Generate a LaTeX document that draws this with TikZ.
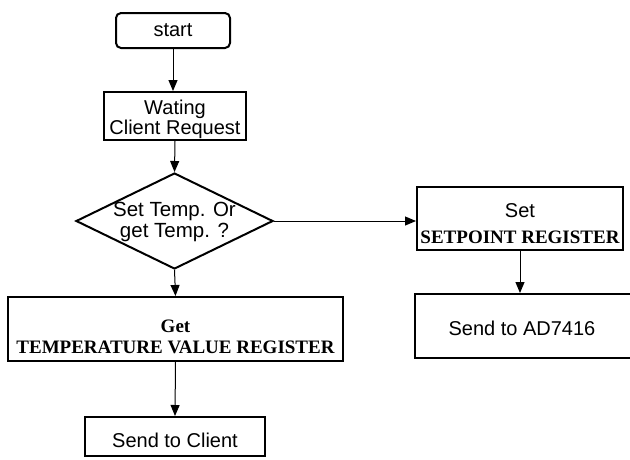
\documentclass[tikz,border=0pt]{standalone}
\usepackage{fontspec}
\setmainfont{Liberation Sans}
\newfontfamily\serifb{Liberation Serif}
\usetikzlibrary{shapes.geometric,arrows.meta}
\begin{document}
\begin{tikzpicture}[x=1pt,y=-1pt,
  box/.style={draw, line width=2pt, inner sep=0pt, align=center,
    font=\fontsize{20}{21}\selectfont},
  dia/.style={draw, diamond, line width=2pt, inner sep=0pt,
    minimum width=197pt, minimum height=96pt},
  txt/.style={inner sep=0pt, align=center, font=\fontsize{20}{21}\selectfont},
  ser/.style={inner sep=0pt, align=center, font=\fontsize{19}{21}\selectfont\serifb\bfseries},
  arr/.style={-{Triangle[length=11pt,width=9pt]}, line width=1pt}]
\useasboundingbox (0,0) rectangle (630,459);
\clip (0,0) rectangle (630,459);
\node[box, rounded corners=5pt, minimum width=114pt, minimum height=35pt] (start) at (173,30.5) {start};
\node[box, minimum width=142pt, minimum height=48pt] (wait) at (175,116) {};
\node[txt] (wt) at (175,119) {Wating\\[-1pt]Client Request};
\node[dia] (d) at (174.5,221) {};
\node[txt, font=\fontsize{20.5}{21}\selectfont] (dt) at (174.5,222) {Set Temp. Or\\get Temp. ?};
\node[box, minimum width=335pt, minimum height=64pt] (get) at (175.5,329) {};
\node[ser] (gt) at (175.5,337) {Get\\TEMPERATURE VALUE REGISTER};
\node[box, minimum width=206pt, minimum height=63pt] (set) at (520,218.5) {};
\node[txt] (st) at (520,224) {Set\\[5pt]\serifb\bfseries\fontsize{19}{21}\selectfont SETPOINT REGISTER};
\node[box, minimum width=235pt, minimum height=64pt] (ad) at (532.5,326) {};
\node[txt] (adt) at (522,328) {Send to AD7416};
\node[box, minimum width=180pt, minimum height=39pt] (client) at (175,436.5) {};
\node[txt] (ct) at (175,440) {Send to Client};
\draw[arr] (start.south) -- (start.south |- wait.north);
\draw[arr] (wait.south) -- (d.north);
\draw[arr] (d.south) -- (get.north);
\draw[arr] (get.south) -- (client.north);
\draw[arr] (d.east) -- (d.east -| set.west);
\draw[arr] (set.south) -- (set.south |- ad.north);
\end{tikzpicture}
\end{document}
